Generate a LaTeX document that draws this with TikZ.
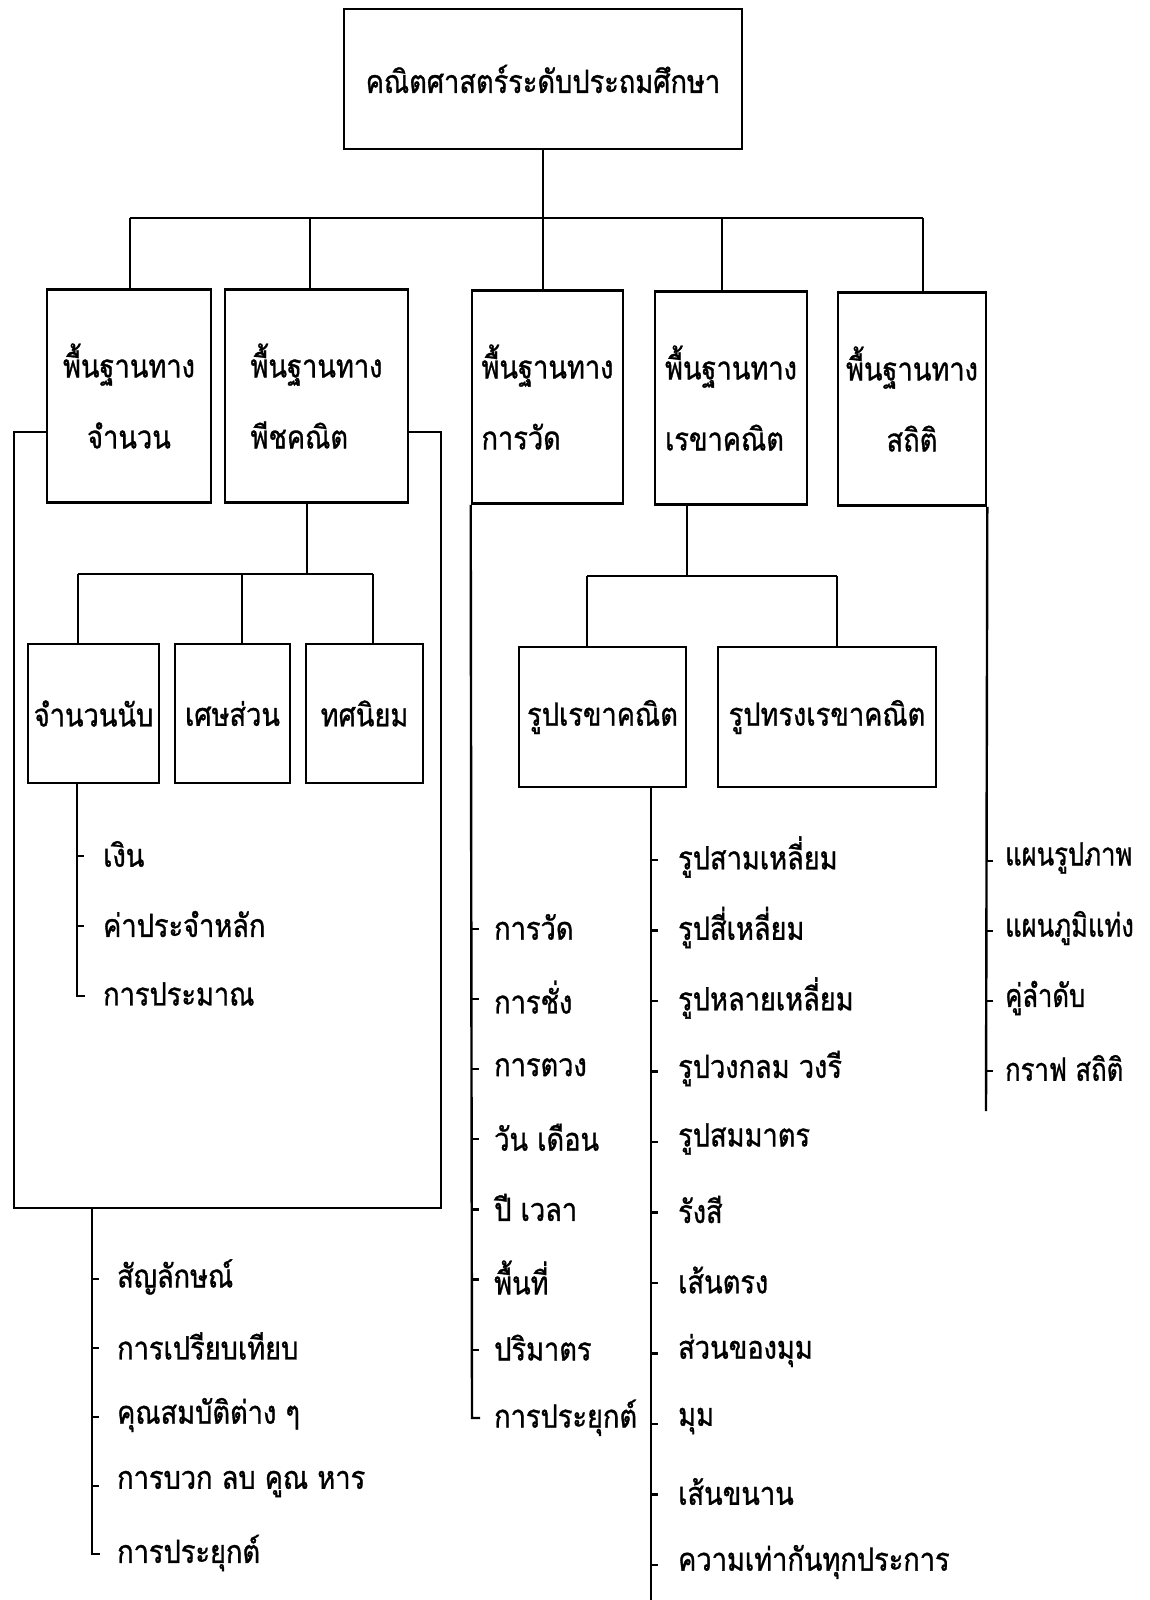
\documentclass[tikz,border=0pt]{standalone}
\usepackage{fontspec}
\newfontfamily\thaifont[Script=Thai, FakeStretch=0.85, FakeBold=1]{Loma}
\newfontfamily\thainarrow[Script=Thai, FakeStretch=0.8, FakeBold=1]{Loma}
\begin{document}
\begin{tikzpicture}[x=1pt,y=-1pt,
  box/.style={draw, line width=2.6pt, inner sep=0pt, font=\thaifont\fontsize{32}{71}\selectfont},
  ln/.style={line width=2.4pt},
  tk/.style={line width=2.2pt},
  lbl/.style={anchor=west, inner sep=0pt, font=\thaifont\fontsize{32}{34}\selectfont},
  nlbl/.style={anchor=west, inner sep=0pt, font=\thainarrow\fontsize{32}{34}\selectfont}]
\useasboundingbox (0,0) rectangle (1150,1600);
% root
\node[box, minimum width=398, minimum height=140] (root) at (543,79) {คณิตศาสตร์ระดับประถมศึกษา};
% level 1
\node[box, align=center, minimum width=164, minimum height=213] (b1) at (129,396) {พื้นฐานทาง\\จำนวน};
\node[box, align=left, minimum width=183, minimum height=213] (b2) at (316.5,396) {พื้นฐานทาง\\พีชคณิต};
\node[box, align=left, minimum width=151, minimum height=213] (b3) at (547.5,397) {พื้นฐานทาง\\การวัด};
\node[box, align=left, minimum width=152, minimum height=213] (b4) at (731,398) {พื้นฐานทาง\\เรขาคณิต};
\node[box, align=center, minimum width=148, minimum height=213] (b5) at (912,399) {พื้นฐานทาง\\สถิติ};
% top bar
\coordinate (tb) at (543,218);
\coordinate (d1) at (130,218);
\coordinate (d2) at (310,218);
\coordinate (d4) at (722,218);
\coordinate (d5) at (923,218);
\draw[ln] (root.south) -- (tb);
\draw[ln] (d1) -- (d5);
\draw[ln] (d1) -- (d1 |- b1.north);
\draw[ln] (d2) -- (d2 |- b2.north);
\draw[ln] (tb) -- (tb |- b3.north);
\draw[ln] (d4) -- (d4 |- b4.north);
\draw[ln] (d5) -- (d5 |- b5.north);
% algebra sub-boxes
\node[box, minimum width=131, minimum height=139] (s1) at (93.5,713.5) {จำนวนนับ};
\node[box, minimum width=115, minimum height=139] (s2) at (232.5,713.5) {เศษส่วน};
\node[box, minimum width=117, minimum height=139] (s3) at (364.5,713.5) {ทศนิยม};
\coordinate (sb) at (307,574);
\coordinate (sa) at (78,574);
\coordinate (sm) at (242,574);
\coordinate (sc) at (373,574);
\draw[ln] (sb |- b2.south) -- (sb);
\draw[ln] (sa) -- (sc);
\draw[ln] (sa) -- (sa |- s1.north);
\draw[ln] (sm) -- (sm |- s2.north);
\draw[ln] (sc) -- (sc |- s3.north);
% enclosure around number/algebra
\coordinate (e1) at (14,432);
\coordinate (e2) at (14,1208);
\coordinate (e3) at (441,1208);
\coordinate (e4) at (441,432);
\draw[ln] (b1.west |- e1) -- (e1) -- (e2) -- (e3) -- (e4) -- (b2.east |- e4);
% counting list
\coordinate (cl) at (77,996);
\draw[ln] (cl |- s1.south) -- (cl) -- ++(8,0);
\foreach \t [count=\i from 0] in {เงิน, ค่าประจำหลัก, การประมาณ}{
  \node[lbl] (c\i) at (103,854+70*\i) {\t};
}
\foreach \i in {0,1}{ \coordinate (ct\i) at (77,856+70*\i); \draw[tk] (ct\i) -- ++(7,0); }
% number list
\coordinate (nb) at (92,1208);
\coordinate (nl) at (92,1554);
\draw[ln] (nb) -- (nl) -- ++(8,0);
\foreach \t [count=\i from 0] in {สัญลักษณ์, การเปรียบเทียบ, คุณสมบัติต่าง ๆ, การบวก ลบ คูณ หาร, การประยุกต์}{
  \node[lbl] (n\i) at (117,1277+69*\i) {\t};
}
\foreach \i in {0,1,2,3}{ \coordinate (nt\i) at (92,1279+69*\i); \draw[tk] (nt\i) -- ++(7,0); }
% measurement list
\coordinate (ml) at (472,1418);
\draw[ln] (b3.south west) -- (ml) -- ++(8,0);
\foreach \t [count=\i from 0] in {การวัด, การชั่ง, การตวง, วัน เดือน, ปี เวลา, พื้นที่, ปริมาตร, การประยุกต์}{
  \node[lbl] (m\i) at (494,927+70.1*\i) {\t};
}
\foreach \i in {0,...,6}{ \coordinate (mt\i) at (472,929+70.1*\i); \draw[tk] (mt\i) -- ++(7,0); }
% geometry
\node[box, minimum width=167, minimum height=140] (g1) at (602.5,717) {รูปเรขาคณิต};
\node[box, minimum width=218, minimum height=140] (g2) at (827,717) {รูปทรงเรขาคณิต};
\coordinate (gb) at (687,576);
\coordinate (ga) at (587,576);
\coordinate (gc) at (837,576);
\draw[ln] (gb |- b4.south) -- (gb);
\draw[ln] (ga) -- (gc);
\draw[ln] (ga) -- (ga |- g1.north);
\draw[ln] (gc) -- (gc |- g2.north);
\coordinate (gl) at (651,1600);
\draw[ln] (gl |- g1.south) -- (gl);
\foreach \t [count=\i from 0] in {รูปสามเหลี่ยม, รูปสี่เหลี่ยม, รูปหลายเหลี่ยม, รูปวงกลม วงรี, รูปสมมาตร, รังสี, เส้นตรง, ส่วนของมุม, มุม, เส้นขนาน, ความเท่ากันทุกประการ}{
  \node[lbl] (g\i) at (678,857+70.5*\i) {\t};
  \coordinate (gt\i) at (651,860+70.5*\i);
  \draw[tk] (gt\i) -- ++(7,0);
}
% statistics list
\coordinate (tl) at (986,1111);
\draw[ln] (b5.south east) -- (tl);
\foreach \t [count=\i from 0] in {แผนรูปภาพ, แผนภูมิแท่ง, คู่ลำดับ, กราฟ สถิติ}{
  \node[nlbl] (t\i) at (1005,858+70*\i) {\t};
  \coordinate (tt\i) at (986,861+70*\i);
  \draw[tk] (tt\i) -- ++(7,0);
}
\end{tikzpicture}
\end{document}
